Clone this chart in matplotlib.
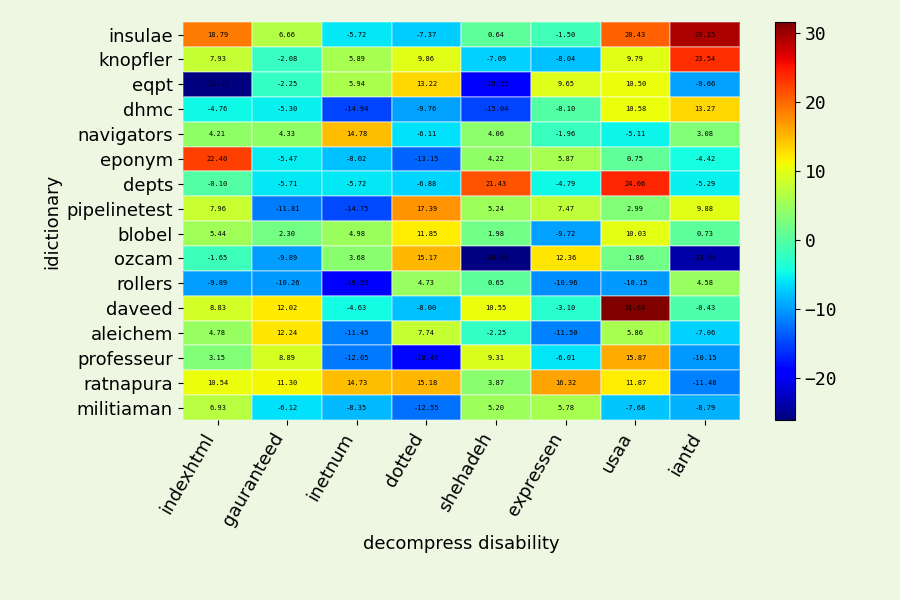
import numpy as np
import matplotlib
matplotlib.use("Agg")
import matplotlib.pyplot as plt

plt.rcParams["font.family"] = "DejaVu Sans Mono"

rows = ["insulae", "knopfler", "eqpt", "dhmc", "navigators", "eponym", "depts",
        "pipelinetest", "blobel", "ozcam", "rollers", "daveed", "aleichem",
        "professeur", "ratnapura", "militiaman"]
cols = ["indexhtml", "gauranteed", "inetnum", "dotted", "shehadeh", "expressen", "usaa", "iantd"]

values = [
    [18.79, 6.66, -5.72, -7.37, 0.64, -1.50, 20.43, 29.15],
    [7.93, -2.08, 5.89, 9.86, -7.09, -8.04, 9.79, 23.54],
    [-26.11, -2.25, 5.94, 13.22, -19.55, 9.65, 10.50, -9.66],
    [-4.76, -5.30, -14.94, -9.76, -15.04, -0.10, 10.58, 13.27],
    [4.21, 4.33, 14.78, -6.11, 4.06, -1.96, -5.11, 3.08],
    [22.40, -5.47, -8.02, -13.15, 4.22, 5.87, 0.75, -4.42],
    [-0.10, -5.71, -5.72, -6.88, 21.43, -4.79, 24.06, -5.29],
    [7.96, -11.81, -14.75, 17.39, 5.24, 7.47, 2.99, 9.88],
    [5.44, 2.30, 4.98, 11.85, 1.98, -9.72, 10.03, 0.73],
    [-1.65, -9.89, 3.68, 15.17, -26.08, 12.36, 1.86, -23.96],
    [-9.89, -10.26, -19.59, 4.73, 0.65, -10.96, -10.15, 4.58],
    [8.83, 12.02, -4.63, -8.00, 10.55, -3.10, 31.63, -0.43],
    [4.78, 12.24, -11.45, 7.74, -2.25, -11.50, 5.86, -7.06],
    [3.15, 8.89, -12.05, -18.46, 9.31, -6.01, 15.87, -10.15],
    [10.54, 11.30, 14.73, 15.18, 3.87, 16.32, 11.87, -11.48],
    [6.93, -6.12, -8.35, -12.55, 5.20, 5.78, -7.68, -8.79],
]
data = np.array(values)

bg = "#eef7e2"
sans = "DejaVu Sans"
fig = plt.figure(figsize=(9, 6), dpi=100, facecolor=bg)
ax = fig.add_axes([0.203, 0.3, 0.619, 0.663])
cax = fig.add_axes([0.861, 0.3, 0.022, 0.663])
ax.set_facecolor(bg)
mesh = ax.pcolormesh(data, cmap="jet", edgecolors=(1, 1, 1, 0.3), linewidth=0.2)
ax.set_xlim(0, len(cols))
ax.set_ylim(len(rows), 0)
for i in range(len(rows)):
    for j in range(len(cols)):
        ax.text(j + 0.5, i + 0.5, f"{data[i, j]:.2f}", ha="center", va="center",
                fontsize=5, color="black")
ax.set_xticks(np.arange(len(cols)) + 0.5)
ax.set_xticklabels(cols, rotation=60, ha="right", fontsize=13, family=sans)
ax.set_yticks(np.arange(len(rows)) + 0.5)
ax.set_yticklabels(rows, fontsize=13, family=sans)
for s in ax.spines.values():
    s.set_visible(False)
ax.set_xlabel("decompress disability", fontsize=13, family=sans)
ax.set_ylabel("idictionary", fontsize=13, family=sans)
cb = fig.colorbar(mesh, cax=cax)
cb.ax.tick_params(labelsize=13)
cb.outline.set_linewidth(0.8)
fig.savefig("out.png", facecolor=bg)
